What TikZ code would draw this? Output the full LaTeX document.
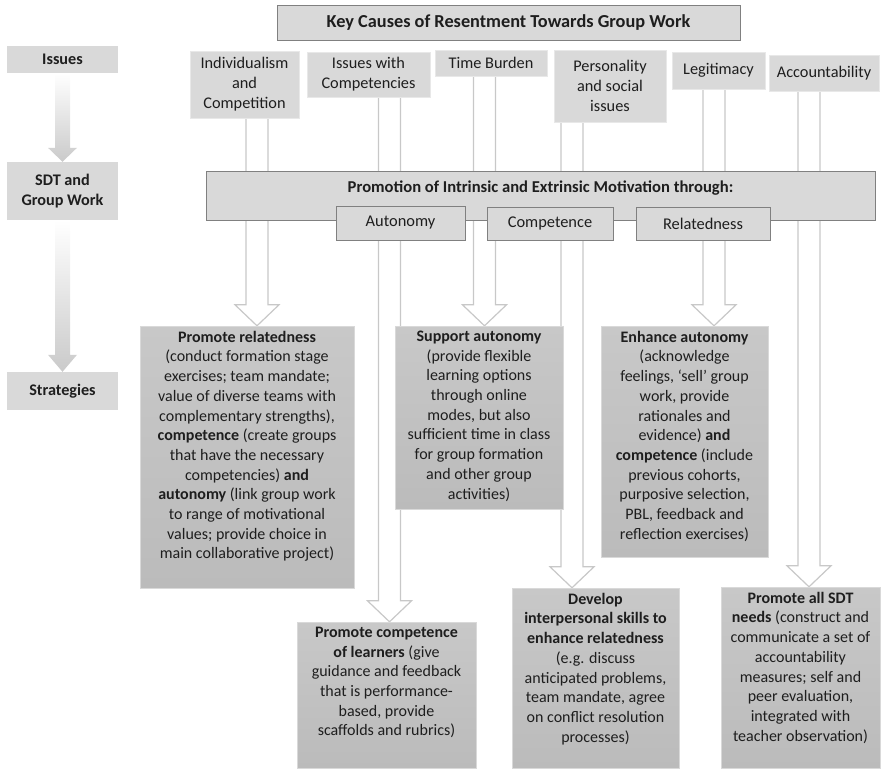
\documentclass[tikz,border=0pt]{standalone}
\usepackage{fontspec}
\setmainfont{Carlito}
\usepackage{tikz}
\usetikzlibrary{calc,positioning,shapes}
\definecolor{boxgray}{HTML}{D9D9D9}
\definecolor{edgegray}{HTML}{808080}
\definecolor{linegray}{HTML}{C8C8C8}
\definecolor{strattop}{HTML}{C8C8C8}
\definecolor{stratbot}{HTML}{BBBBBB}
\definecolor{shadegray}{HTML}{CACACA}
\definecolor{inkgray}{HTML}{1E1E1E}
\pgfdeclarelayer{background}
\pgfsetlayers{background,main}
\tikzstyle{levelbox} = [fill=boxgray,text=inkgray,font=\fontsize{16.2}{20}\selectfont\bfseries,minimum width=111pt,align=center,inner sep=0pt]
\tikzstyle{causebox} = [fill=boxgray,draw=boxgray!60,text=inkgray,font=\fontsize{16.3}{20}\selectfont,align=center,inner sep=0pt]
\tikzstyle{headbox} = [fill=boxgray,draw=edgegray,text=inkgray,font=\fontsize{18.3}{21}\selectfont\bfseries,inner sep=0pt]
\tikzstyle{needbox} = [fill=boxgray,draw=edgegray,text=inkgray,font=\fontsize{16.4}{20}\selectfont,inner sep=0pt]
\tikzstyle{stratbox} = [top color=strattop,bottom color=stratbot,draw=boxgray,text=inkgray,font=\fontsize{16}{19.7}\selectfont,inner sep=5pt]
\tikzstyle{hollow} = [draw=linegray,fill=white,line width=1.2pt]
\newcommand{\topbody}[3]{\parbox[c][#2][t]{#1}{\centering #3}}
% hollow arrow: x centre, from node, to node
\newcommand{\hollowarrow}[3]{%
  \draw[hollow] ({#1-11},0 |- #2.south) -- ($({#1-11},0 |- #3.north)+(0,-21)$)
    -- ($({#1-22},0 |- #3.north)+(0,-21)$) -- ({#1},0 |- #3.north)
    -- ($({#1+22},0 |- #3.north)+(0,-21)$) -- ($({#1+11},0 |- #3.north)+(0,-21)$)
    -- ({#1+11},0 |- #2.south);}
\begin{document}
\begin{tikzpicture}[x=1pt,y=-1pt]
  \useasboundingbox (0,0) rectangle (887,771);

  % left column
  \node (issues)[levelbox,minimum height=27pt] at (62.5,59.5) {Issues};
  \node (sdt)[levelbox,minimum height=58pt] at (62.5,191) {SDT and\\Group Work};
  \node (strat)[levelbox,minimum height=38pt] at (62.5,391) {Strategies};
  \shade[top color=white,bottom color=shadegray] ($(issues.south)+(-7.5,0)$) -- ($(sdt.north)+(-7.5,-14)$)
    -- ($(sdt.north)+(-14.5,-14)$) -- (sdt.north) -- ($(sdt.north)+(14.5,-14)$)
    -- ($(sdt.north)+(7.5,-14)$) -- ($(issues.south)+(7.5,0)$) -- cycle;
  \shade[top color=white,bottom color=shadegray] ($(sdt.south)+(-7.5,0)$) -- ($(strat.north)+(-7.5,-17)$)
    -- ($(strat.north)+(-14.5,-17)$) -- (strat.north) -- ($(strat.north)+(14.5,-17)$)
    -- ($(strat.north)+(7.5,-17)$) -- ($(sdt.south)+(7.5,0)$) -- cycle;

  % causes
  \node (head)[headbox,minimum width=463pt,minimum height=35pt] at (508.5,22.5) {Key Causes of Resentment Towards Group Work};
  \node (indiv)[causebox,minimum width=109pt,minimum height=67pt] at (244.5,84.5) {Individualism\\and\\Competition};
  \node (compet)[causebox,minimum width=123pt,minimum height=45pt] at (368.5,74.5) {Issues with\\Competencies};
  \node (time)[causebox,minimum width=112pt,minimum height=26pt] at (491,63) {Time Burden};
  \node (person)[causebox,minimum width=112pt,minimum height=72pt] at (610,86) {Personality\\and social\\issues};
  \node (legit)[causebox,minimum width=93pt,minimum height=37pt] at (718.5,70.5) {Legitimacy};
  \node (account)[causebox,minimum width=110pt,minimum height=36pt] at (824,73) {Accountability};

  % SDT needs
  \node (promo)[needbox,font=\fontsize{16.6}{20}\selectfont\bfseries,minimum width=669pt,text height=17pt,text depth=24pt,inner ysep=4pt] at (540.5,195.5) {Promotion of Intrinsic and Extrinsic Motivation through:};
  \node (auto)[needbox,minimum width=129pt,minimum height=34pt] at (400.5,223) {Autonomy};
  \node (comp)[needbox,minimum width=126pt,minimum height=33pt] at (550,223.5) {Competence};
  \node (relat)[needbox,minimum width=134pt,minimum height=33pt] at (703,223.5) {Relatedness};

  % strategies
  \node (sA)[stratbox] at (247,457) {\topbody{204pt}{252pt}{\textbf{Promote relatedness}\\(conduct formation stage\\exercises; team mandate;\\value of diverse teams with\\complementary strengths),\\\textbf{competence} (create groups\\that have the necessary\\competencies) \textbf{and}\\\textbf{autonomy} (link group work\\to range of motivational\\values; provide choice in\\main collaborative project)}};
  \node (sB)[stratbox] at (479,417.5) {\topbody{158pt}{173pt}{\textbf{Support autonomy}\\(provide flexible\\learning options\\through online\\modes, but also\\sufficient time in class\\for group formation\\and other group\\activities)}};
  \node (sC)[stratbox] at (684.5,441.5) {\topbody{157pt}{221pt}{\textbf{Enhance autonomy}\\(acknowledge\\feelings, ‘sell’ group\\work, provide\\rationales and\\evidence) \textbf{and}\\\textbf{competence} (include\\previous cohorts,\\purposive selection,\\PBL, feedback and\\reflection exercises)}};
  \node (sD)[stratbox] at (386.5,695) {\topbody{169pt}{136pt}{\textbf{Promote competence}\\\textbf{of learners} (give\\guidance and feedback\\that is performance-\\based, provide\\scaffolds and rubrics)}};
  \node (sE)[stratbox] at (595.5,678) {\topbody{157pt}{170pt}{\textbf{Develop}\\\textbf{interpersonal skills to}\\\textbf{enhance relatedness}\\(e.g. discuss\\anticipated problems,\\team mandate, agree\\on conflict resolution\\processes)}};
  \node (sF)[stratbox] at (800.5,677.5) {\topbody{149pt}{171pt}{\textbf{Promote all SDT}\\\textbf{needs} (construct and\\communicate a set of\\accountability\\measures; self and\\peer evaluation,\\integrated with\\teacher observation)}};

  \begin{pgfonlayer}{background}
    \hollowarrow{257}{indiv}{sA}
    \hollowarrow{389.5}{compet}{sD}
    \hollowarrow{484.5}{time}{sB}
    \hollowarrow{572}{person}{sE}
    \hollowarrow{714}{legit}{sC}
    \hollowarrow{809}{account}{sF}
  \end{pgfonlayer}
\end{tikzpicture}
\end{document}
